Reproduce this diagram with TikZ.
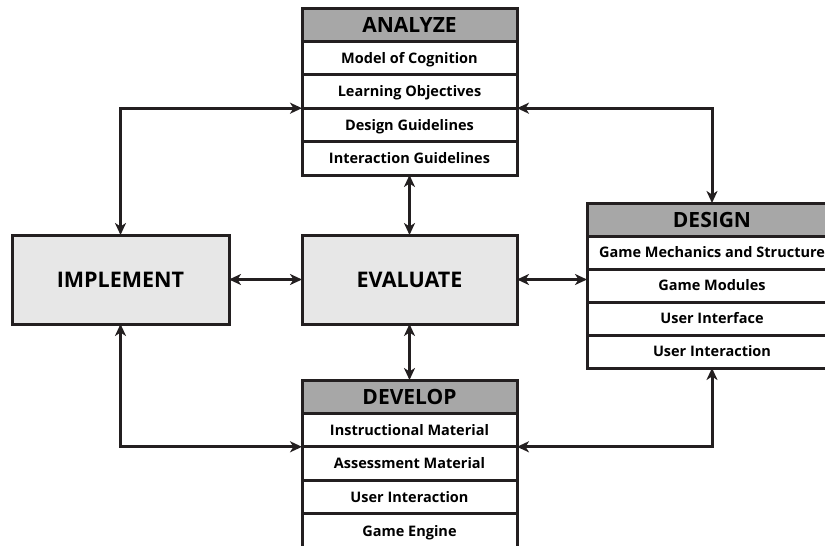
\documentclass[tikz,border=0pt]{standalone}
\usepackage{fontspec}
\setmainfont{Open Sans}
\usetikzlibrary{arrows.meta}
\definecolor{ln}{HTML}{231F20}
\definecolor{hdr}{HTML}{A7A7A7}
\definecolor{lt}{HTML}{E7E7E7}
\begin{document}
\begin{tikzpicture}[x=1pt,y=-1pt,
  cell/.style={draw=ln, line width=3pt, fill=white, minimum width=215pt, minimum height=33.4pt,
    inner sep=0pt, outer sep=0pt, anchor=north, text=black, text height=10.4pt, text depth=0pt,
    font=\bfseries\fontsize{14.5}{16}\selectfont},
  hdrcell/.style={cell, fill=hdr, text height=15pt, font=\bfseries\fontsize{21}{23}\selectfont},
  dcell/.style={cell, minimum width=250pt, minimum height=33pt},
  bigbox/.style={draw=ln, line width=3pt, fill=lt, minimum width=217pt, minimum height=89pt,
    inner sep=0pt, outer sep=0pt, text=black, text height=15.4pt, text depth=0pt,
    font=\bfseries\fontsize{21.5}{24}\selectfont},
  tip/.tip={Stealth[length=12pt,width=11pt,inset=3.5pt]},
  arr/.style={draw=ln, line width=3pt, tip-tip}]
\useasboundingbox (0,0) rectangle (825,546);
% ANALYZE
\node[hdrcell] (ah) at (409.5,8) {ANALYZE};
\node[cell] (a1) at (409.5,41.4) {Model of Cognition};
\node[cell] (a2) at (409.5,74.8) {Learning Objectives};
\node[cell] (a3) at (409.5,108.2) {Design Guidelines};
\node[cell] (a4) at (409.5,141.6) {Interaction Guidelines};
% DESIGN
\node[hdrcell, minimum width=250pt, minimum height=33pt] (dh) at (712,203) {DESIGN};
\node[dcell] (s1) at (712,236) {Game Mechanics and Structure};
\node[dcell] (s2) at (712,269) {Game Modules};
\node[dcell] (s3) at (712,302) {User Interface};
\node[dcell] (s4) at (712,335) {User Interaction};
% DEVELOP
\node[hdrcell] (vh) at (409.5,380) {DEVELOP};
\node[cell] (v1) at (409.5,413.4) {Instructional Material};
\node[cell] (v2) at (409.5,446.8) {Assessment Material};
\node[cell] (v3) at (409.5,480.2) {User Interaction};
\node[cell, minimum height=36pt] (v4) at (409.5,513.6) {Game Engine};
% IMPLEMENT / EVALUATE
\node[bigbox] (imp) at (120.5,279.5) {IMPLEMENT};
\node[bigbox, minimum width=215pt] (ev) at (409.5,279.5) {EVALUATE};
% connectors
\draw[arr] (imp.east) -- (ev.west);
\draw[arr] (ev.east) -- (ev.east -| dh.west);
\draw[arr] (ev.north) -- (a4.south);
\draw[arr] (ev.south) -- (vh.north);
\draw[arr] (imp.north) |- (a2.south west);
\draw[arr] (dh.north) |- (a2.south east);
\draw[arr] (imp.south) |- (v1.south west);
\draw[arr] (s4.south) |- (v1.south east);
\end{tikzpicture}
\end{document}
